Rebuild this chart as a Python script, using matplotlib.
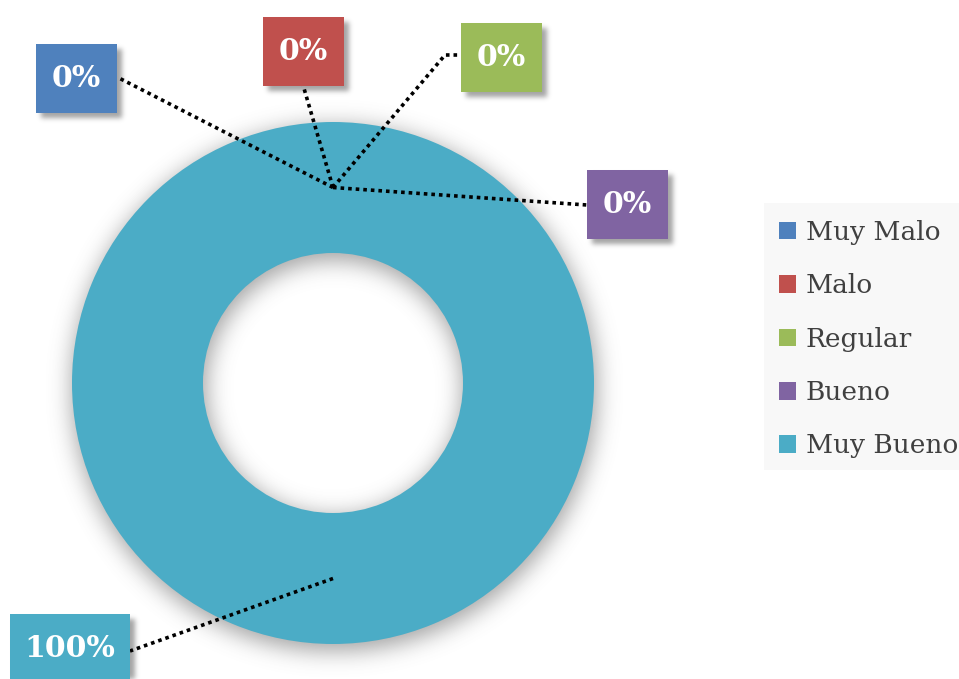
import numpy as np
import matplotlib
matplotlib.use("Agg")
import matplotlib.pyplot as plt
from matplotlib.patches import Rectangle

# ---- data ----
categories = ["Muy Malo", "Malo", "Regular", "Bueno", "Muy Bueno"]
values = [0, 0, 0, 0, 100]
colors = ["#4F81BD", "#C0504D", "#9BBB59", "#8064A2", "#4BACC6"]

# ---- layout (pixel coordinates, y measured from the top) ----
W, H = 959, 679
CX, CY = 333, 383
R_OUT, R_IN = 261, 130
# label boxes: (left, top, width, height)
label_boxes = [(36, 44, 81, 69), (263, 17, 81, 69), (461, 23, 81, 69),
               (587, 170, 81, 69), (10, 614, 120, 69)]
# where each leader line meets its box (optionally via a bend point)
leader_paths = [[(117, 77)], [(303, 85)], [(445, 55), (461, 55)],
                [(587, 205)], [(130, 651)]]


def fy(y):
    """Convert a top-based pixel y into the axes' bottom-based y."""
    return H - y


fig = plt.figure(figsize=(W / 100, H / 100), dpi=100)
ax = fig.add_axes([0, 0, 1, 1])
ax.set_axis_off()

# ---- soft drop shadows (ring + label boxes) ----
yy, xx = np.mgrid[0:H, 0:W].astype(float)


def blur(img, sigma):
    n = int(3 * sigma)
    k = np.exp(-0.5 * (np.arange(-n, n + 1) / sigma) ** 2)
    k /= k.sum()
    pad = np.pad(img, n, mode="constant")
    tmp = np.apply_along_axis(lambda r: np.convolve(r, k, mode="valid"), 1, pad)
    return np.apply_along_axis(lambda c: np.convolve(c, k, mode="valid"), 0, tmp)


d = np.hypot(xx - (CX + 1), yy - (CY + 5))
ring_mask = ((d <= R_OUT + 2) & (d >= R_IN - 2)).astype(float)
ring_shadow = blur(ring_mask, 11.0) * 0.55

box_mask = np.zeros((H, W))
for (l, t, w, h) in label_boxes:
    box_mask[max(t + 5, 0):min(t + h + 5, H), max(l + 5, 0):min(l + w + 5, W)] = 1.0
box_shadow = blur(box_mask, 2.5) * 0.55

alpha = np.clip(ring_shadow + box_shadow, 0, 1)
rgba = np.zeros((H, W, 4))
rgba[..., :3] = 0.35
rgba[..., 3] = alpha
ax.imshow(rgba, extent=(0, W, 0, H), origin="upper", zorder=0, interpolation="bilinear")

# ---- donut ----
wedges, _ = ax.pie(values, colors=colors, startangle=90, counterclock=False,
                   center=(CX, fy(CY)), radius=R_OUT,
                   wedgeprops=dict(width=R_OUT - R_IN, edgecolor="none"),
                   frame=True)
for wdg in wedges:
    wdg.set_zorder(2)

ax.set_xlim(0, W)
ax.set_ylim(0, H)
ax.set_aspect("auto")
ax.set_axis_off()

# ---- leader lines and value boxes ----
total = sum(values)
for i, wdg in enumerate(wedges):
    mid = np.deg2rad((wdg.theta1 + wdg.theta2) / 2)
    rm = wdg.r - wdg.width / 2
    ax0 = CX + rm * np.cos(mid)
    ay0 = fy(CY) + rm * np.sin(mid)
    xs = [ax0] + [p[0] for p in leader_paths[i]]
    ys = [ay0] + [fy(p[1]) for p in leader_paths[i]]
    ax.plot(xs, ys, color="black", lw=2.6, linestyle=(0, (1, 1.1)),
            dash_capstyle="butt", zorder=3)

    l, t, w, h = label_boxes[i]
    ax.add_patch(Rectangle((l, fy(t + h)), w, h, facecolor=colors[i],
                           edgecolor="none", zorder=4))
    pct = values[i] / total * 100
    ax.text(l + w / 2, fy(t + h / 2), f"{pct:.0f}%", ha="center", va="center",
            color="white", fontsize=21.5, fontweight="bold",
            family="DejaVu Serif", zorder=5)

# ---- legend ----
ax.add_patch(Rectangle((764, fy(470)), W - 764, 470 - 203,
                       facecolor="#F8F8F8", edgecolor="none", zorder=1))
leg = ax.legend(wedges, categories, loc="upper left",
                bbox_to_anchor=(779, fy(220)), bbox_transform=ax.transData,
                frameon=False, borderpad=0, borderaxespad=0,
                handlelength=0.64, handleheight=0.64, handletextpad=0.38,
                labelspacing=1.075,
                prop=dict(family="DejaVu Serif", size=19))
for txt in leg.get_texts():
    txt.set_color("#404040")

fig.savefig("out.png", dpi=100)
